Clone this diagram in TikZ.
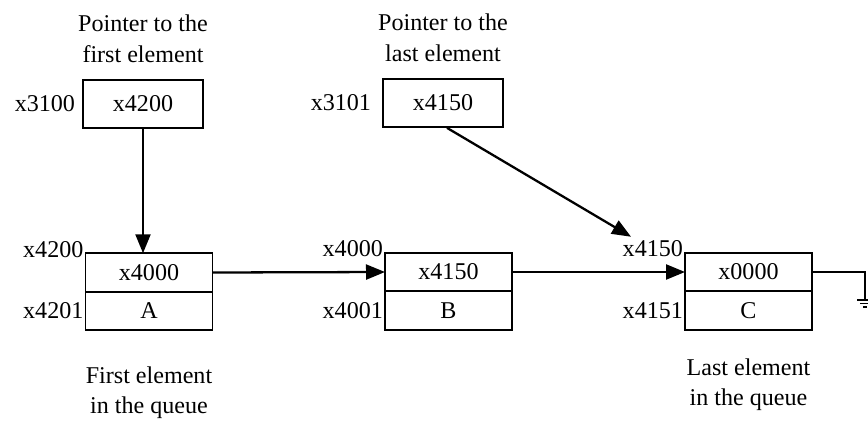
\documentclass[tikz,border=0pt]{standalone}
\usepackage{fontspec}
\setmainfont{Liberation Serif}
\usepackage{tikz}
\usetikzlibrary{arrows.meta, positioning, calc}
\tikzstyle{arrow} = [line width=1.3pt,-{Triangle[length=3.8mm,width=3mm]}]

\begin{document}
\begin{tikzpicture}[node distance=0.2cm, every node/.style={font=\fontsize{13.7}{17.5}\selectfont}, align=center,
  ptrbox/.style={draw, line width=1pt, rectangle, minimum width=2.4cm, minimum height=0.96cm, inner sep=0pt},
  cell/.style={draw, line width=1pt, rectangle, minimum width=2.54cm, minimum height=0.77cm, inner sep=0pt, outer sep=0pt},
  addr/.style={inner sep=1pt}]
\useasboundingbox (0,0) rectangle (17.36,-8.46);

% Pointer boxes
\node (first) [ptrbox] at (2.86,-2.08) {x4200};
\node (last) [ptrbox] at (8.86,-2.06) {x4150};
\node (firstAddr) [addr, left=0.1cm of first] {x3100};
\node (lastAddr) [addr, left=0.18cm of last] {x3101};
\node (firstCap) [above=0.2cm of first] {Pointer to the\\first element};
\node (lastCap) [above=0.2cm of last] {Pointer to the\\last element};

% Queue elements
\node (Aptr) [cell] at (2.98,-5.45) {x4000};
\node (Aval) [cell, below=0pt of Aptr] {A};
\node (Bptr) [cell] at (8.97,-5.44) {x4150};
\node (Bval) [cell, below=0pt of Bptr] {B};
\node (Cptr) [cell] at (14.97,-5.44) {x0000};
\node (Cval) [cell, below=0pt of Cptr] {C};

% Addresses
\node (AptrAddr) [addr, anchor=south east, yshift=-0.13cm] at (Aptr.north west) {x4200};
\node (AvalAddr) [addr, anchor=east] at (Aval.west) {x4201};
\node (BptrAddr) [addr, anchor=south east, yshift=-0.13cm] at (Bptr.north west) {x4000};
\node (BvalAddr) [addr, anchor=east] at (Bval.west) {x4001};
\node (CptrAddr) [addr, anchor=south east, yshift=-0.13cm] at (Cptr.north west) {x4150};
\node (CvalAddr) [addr, anchor=east] at (Cval.west) {x4151};

\node (Acap) [below=0.6cm of Aval] {First element\\in the queue};
\node (Ccap) [below=0.45cm of Cval] {Last element\\in the queue};

% Links
\draw [arrow] (first.south) -- (first.south |- Aptr.north);
\draw [arrow] (Aptr.east) -- (Bptr.west);
\draw [arrow] (Bptr.east) -- (Cptr.west);
\coordinate (lastEnd) at ($(Cptr.north west)+(-1.08,0.32)$);
\draw [arrow] ($(last.south)+(0.08,0)$) -- (lastEnd);

% Null (ground)
\coordinate (gnd) at (17.3,-6.0);
\draw [line width=1pt] (Cptr.east) -| (gnd);
\draw [line width=1pt] ($(gnd)+(-0.16,0)$) -- ++(0.32,0)
  ($(gnd)+(-0.1,-0.07)$) -- ++(0.2,0)
  ($(gnd)+(-0.04,-0.14)$) -- ++(0.08,0);
\end{tikzpicture}
\end{document}
